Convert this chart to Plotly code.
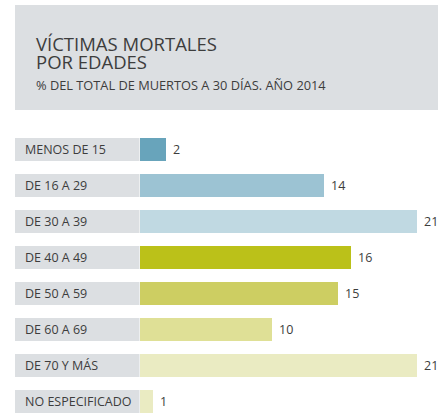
import plotly.graph_objects as go

categories = ["MENOS DE 15", "DE 16 A 29", "DE 30 A 39", "DE 40 A 49",
              "DE 50 A 59", "DE 60 A 69", "DE 70 Y MÁS", "NO ESPECIFICADO"]
values = [2, 14, 21, 16, 15, 10, 21, 1]
bar_colors = ["#68a4bb", "#9cc3d3", "#c0d9e2", "#bbc119",
              "#cdce62", "#dfe096", "#eaebc2", "#eaebc2"]

title_lines = ["VÍCTIMAS MORTALES", "POR EDADES"]
subtitle = "% DEL TOTAL DE MUERTOS A 30 DÍAS. AÑO 2014"

W, H = 438, 419
x0_px = 139.5          # pixel where value 0 sits
px_per_unit = 13.2
row0_px = 149.5
row_pitch = 36.0

xr = [-x0_px / px_per_unit, (W - x0_px) / px_per_unit]
yr = [(H - row0_px) / row_pitch, -row0_px / row_pitch]

GRAY = "#dcdfe2"
TXT = "#3d3d3d"
FONT = "Open Sans"

fig = go.Figure()
fig.add_trace(go.Bar(
    x=values, y=list(range(len(categories))), orientation="h",
    marker=dict(color=bar_colors, line=dict(width=0)),
    width=23 / row_pitch, hoverinfo="skip", showlegend=False,
))

shapes = []
# header box
shapes.append(dict(type="rect", xref="paper", yref="paper",
                   x0=15 / W, x1=1, y0=1 - 110 / H, y1=1 - 5 / H,
                   fillcolor=GRAY, line=dict(width=0), layer="below"))
annotations = []
for i, cat in enumerate(categories):
    half = 23 / row_pitch / 2
    shapes.append(dict(type="rect", xref="paper", yref="y",
                       x0=15 / W, x1=139.5 / W, y0=i - half, y1=i + half,
                       fillcolor=GRAY, line=dict(width=0), layer="below"))
    annotations.append(dict(x=22.5 / W, xref="paper", y=i, yref="y",
                            text=cat, showarrow=False, xanchor="left", yanchor="middle",
                            font=dict(family=FONT, size=12.5, color=TXT)))
    annotations.append(dict(x=values[i], xref="x", y=i, yref="y",
                            text=str(values[i]), showarrow=False, xanchor="left",
                            yanchor="middle", xshift=5,
                            font=dict(family=FONT, size=12.5, color=TXT)))

annotations.append(dict(x=34 / W, xref="paper", y=1 - 43 / H, yref="paper",
                        text=title_lines[0], showarrow=False, xanchor="left", yanchor="middle",
                        font=dict(family=FONT, size=18.5, color=TXT)))
annotations.append(dict(x=34 / W, xref="paper", y=1 - 61.5 / H, yref="paper",
                        text=title_lines[1], showarrow=False, xanchor="left", yanchor="middle",
                        font=dict(family=FONT, size=18.5, color=TXT)))
annotations.append(dict(x=34 / W, xref="paper", y=1 - 85 / H, yref="paper",
                        text=subtitle, showarrow=False, xanchor="left", yanchor="middle",
                        font=dict(family=FONT, size=12.8, color=TXT)))

fig.update_layout(
    width=W, height=H, margin=dict(l=0, r=0, t=0, b=0),
    paper_bgcolor="white", plot_bgcolor="white",
    xaxis=dict(range=xr, visible=False, fixedrange=True),
    yaxis=dict(range=yr, visible=False, fixedrange=True),
    shapes=shapes, annotations=annotations, bargap=0,
)
fig.write_html("out.html", config={"displayModeBar": False},
               post_script="document.body.style.margin='0';document.body.style.overflow='hidden';")
